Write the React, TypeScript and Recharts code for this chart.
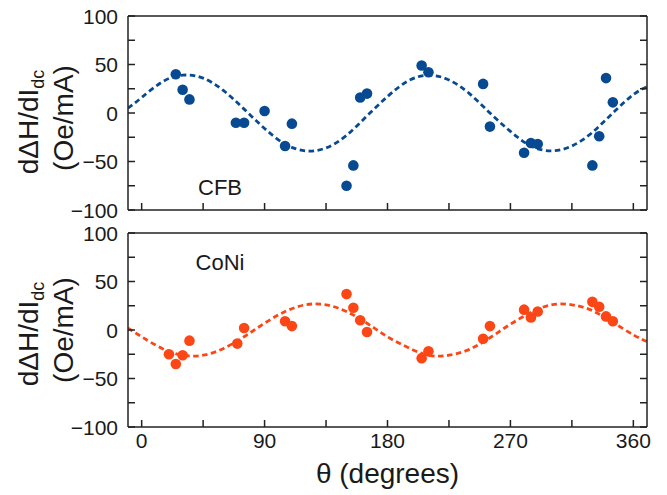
import { ComposedChart, Line, Scatter, XAxis, YAxis } from "recharts";

// fitted curves (dashed), every 15 degrees
const fitAngles = [-10, 0, 15, 30, 45, 60, 75, 90, 105, 120, 135, 150, 165, 180, 195, 210, 225, 240, 255, 270, 285, 300, 315, 330, 345, 360, 370];
const cfbFit = [5, 16, 32, 39, 36, 23, 4, -16, -32, -39, -36, -23, -3, 17, 33, 39, 34, 20, 0, -19, -34, -39, -34, -20, 0, 19, 27];
const coniFit = [2, -7, -19, -26, -26, -19, -7, 7, 19, 26, 26, 19, 7, -7, -18, -26, -26, -20, -8, 6, 18, 26, 26, 20, 8, -5, -12];

// measured points
const cfbAngles = [25, 30, 35, 69, 75, 90, 105, 110, 150, 155, 160, 165, 205, 210, 250, 255, 280, 285, 290, 330, 335, 340, 345];
const cfbValues = [40, 24, 14, -10, -10, 2, -34, -11, -75, -54, 16, 20, 49, 42, 30, -14, -41, -31, -32, -54, -24, 36, 11];
const coniAngles = [20, 25, 30, 35, 70, 75, 105, 110, 150, 155, 160, 165, 205, 210, 250, 255, 280, 285, 290, 330, 335, 340, 345];
const coniValues = [-25, -35, -26, -11, -14, 2, 9, 4, 37, 23, 10, -2, -29, -22, -9, 4, 21, 13, 19, 29, 24, 14, 9];

const xTicks = [0, 45, 90, 135, 180, 225, 270, 315, 360];
const yTicks = [-100, -75, -50, -25, 0, 25, 50, 75, 100];

const AX = "#222";
const FONT = "'Liberation Sans', Arial, sans-serif";
const BLUE = "#074a92";
const ORANGE = "#fd4616";

const fmt = (v: number) => (v < 0 ? `\u2212${Math.abs(v)}` : String(v));
const noLabel = () => <g />;

const yLabel = (p: any) =>
  p.payload.value % 50 !== 0 ? (
    <g />
  ) : (
    <text x={p.x} y={p.y} dy="0.36em" textAnchor="end" fontSize={21} fontFamily={FONT} fill="#1a1a1a">
      {fmt(p.payload.value)}
    </text>
  );

const xLabel = (p: any) =>
  p.payload.value % 90 !== 0 ? (
    <g />
  ) : (
    <text x={p.x} y={p.y + 21} textAnchor="middle" fontSize={21} fontFamily={FONT} fill="#1a1a1a">
      {p.payload.value}
    </text>
  );

interface PanelProps {
  height: number;
  marginTop: number;
  marginBottom: number;
  bottomHeight: number;
  last: boolean;
  color: string;
  fit: number[];
  angles: number[];
  values: number[];
  name: string;
  nameY: number;
  shift1: number;
  shift2: number;
}

function Panel(props: PanelProps) {
  const { height, marginTop, marginBottom, bottomHeight, last, color, fit, angles, values, name, nameY, shift1, shift2 } = props;
  const fitData = fitAngles.map((x, i) => ({ x, y: fit[i] }));
  const pts = angles.map((x, i) => ({ x, y: values[i] }));
  const cy = marginTop + 1 + 97;
  const axisStyle = { stroke: AX, strokeWidth: 1.5 };

  return (
    <ComposedChart width={667} height={height} margin={{ top: marginTop, right: 19, bottom: marginBottom, left: 0 }}>
      <XAxis
        xAxisId="b"
        dataKey="x"
        type="number"
        domain={[-10, 370]}
        ticks={xTicks}
        interval={0}
        height={bottomHeight}
        tickSize={-7}
        tickMargin={7}
        axisLine={axisStyle}
        tickLine={axisStyle}
        tick={last ? xLabel : noLabel}
        allowDataOverflow
      />
      <XAxis
        xAxisId="t"
        orientation="top"
        type="number"
        domain={[-10, 370]}
        ticks={xTicks}
        interval={0}
        height={1}
        tickSize={-7}
        axisLine={axisStyle}
        tickLine={axisStyle}
        tick={noLabel}
        allowDataOverflow
      />
      <YAxis
        yAxisId="l"
        type="number"
        domain={[-100, 100]}
        ticks={yTicks}
        interval={0}
        width={128}
        tickSize={-7}
        tickMargin={17}
        axisLine={axisStyle}
        tickLine={axisStyle}
        tick={yLabel}
        allowDataOverflow
      />
      <YAxis
        yAxisId="r"
        orientation="right"
        type="number"
        domain={[-100, 100]}
        ticks={yTicks}
        interval={0}
        width={1}
        tickSize={-7}
        axisLine={axisStyle}
        tickLine={axisStyle}
        tick={noLabel}
        allowDataOverflow
      />
      <Line
        xAxisId="b"
        yAxisId="l"
        data={fitData}
        dataKey="y"
        type="natural"
        stroke={color}
        strokeWidth={2.8}
        strokeDasharray="5.5 3.5"
        dot={false}
        activeDot={false}
        isAnimationActive={false}
      />
      <Scatter
        xAxisId="b"
        yAxisId="l"
        data={pts}
        dataKey="y"
        fill={color}
        shape={(p: any) => <circle cx={p.cx} cy={p.cy} r={5.3} fill={color} />}
        isAnimationActive={false}
      />
      <text x={220} y={nameY} textAnchor="middle" fontSize={22} fontFamily={FONT} fill="#1a1a1a">
        {name}
      </text>
      <text transform={`translate(38,${cy + shift1}) rotate(-90)`} textAnchor="middle" fontSize={28} fontFamily={FONT} fill="#1a1a1a">
        d{"\u0394"}H/dI
        <tspan dy={6} fontSize={18}>dc</tspan>
      </text>
      <text transform={`translate(73,${cy + shift2}) rotate(-90)`} textAnchor="middle" fontSize={28} fontFamily={FONT} fill="#1a1a1a">
        (Oe/mA)
      </text>
      {last && (
        <text x={387.5} y={height - 12} textAnchor="middle" fontSize={28} fontFamily={FONT} fill="#1a1a1a">
          {"\u03b8 (degrees)"}
        </text>
      )}
    </ComposedChart>
  );
}

export default function App() {
  return (
    <div style={{ position: "absolute", top: 0, left: 0, width: 667, height: 495, background: "#fff" }}>
      <Panel
        height={222}
        marginTop={15}
        marginBottom={11}
        bottomHeight={1}
        last={false}
        color={BLUE}
        fit={cfbFit}
        angles={cfbAngles}
        values={cfbValues}
        name="CFB"
        nameY={195}
        shift1={9}
        shift2={5}
      />
      <Panel
        height={273}
        marginTop={10}
        marginBottom={0}
        bottomHeight={68}
        last={true}
        color={ORANGE}
        fit={coniFit}
        angles={coniAngles}
        values={coniValues}
        name="CoNi"
        nameY={48}
        shift1={4}
        shift2={0}
      />
    </div>
  );
}
